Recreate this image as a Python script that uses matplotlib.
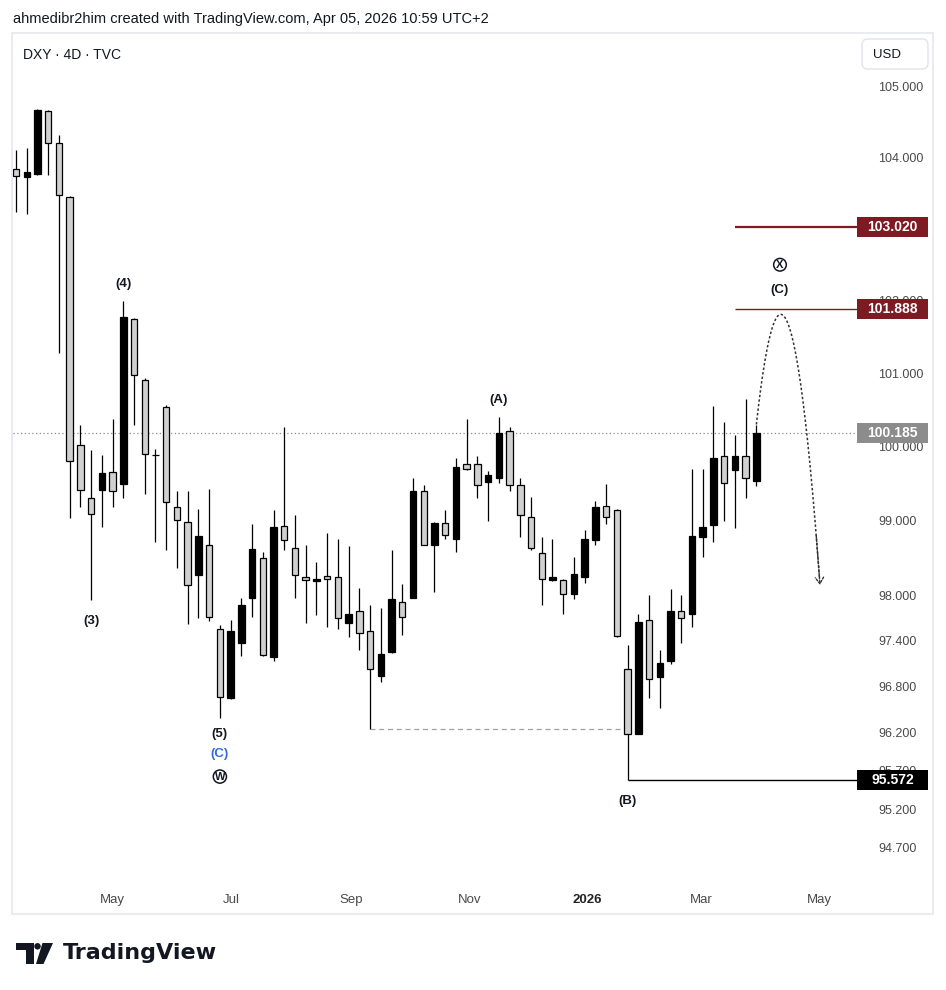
import numpy as np
import pandas as pd
import matplotlib
matplotlib.use("Agg")
import matplotlib.pyplot as plt
from matplotlib.patches import Rectangle, FancyBboxPatch, Ellipse, Polygon
from matplotlib.transforms import IdentityTransform
import matplotlib.ticker as mticker

plt.rcParams['font.family'] = ['Liberation Sans', 'DejaVu Sans']

# ---------------- data (DXY, 4D candles) ----------------
opens = [103.84, 103.73, 103.77, 104.66, 104.21, 103.44, 100.02, 99.30, 99.41, 99.66,
         99.50, 101.74, 100.91, 99.88, 100.54, 99.19, 98.98, 98.27, 98.68, 97.56,
         96.64, 97.37, 97.97, 98.50, 97.19, 98.93, 98.63, 98.25, 98.19, 98.26,
         98.25, 97.64, 97.80, 97.53, 96.93, 97.25, 97.92, 97.97, 99.40, 98.67,
         98.97, 98.75, 99.77, 99.77, 99.52, 99.58, 100.21, 99.48, 99.05, 98.57,
         98.21, 98.21, 98.02, 98.24, 98.74, 99.20, 99.15, 97.03, 96.18, 97.68,
         96.92, 97.13, 97.80, 97.75, 98.78, 98.94, 99.87, 99.68, 99.87, 99.54]
highs = [104.10, 104.14, 104.69, 104.67, 104.32, 103.46, 100.29, 99.95, 99.89, 100.38,
         101.99, 101.76, 100.94, 99.97, 100.56, 99.40, 99.40, 99.16, 99.43, 97.61,
         97.68, 97.97, 98.96, 98.58, 99.15, 100.27, 99.08, 98.68, 98.45, 98.84,
         98.75, 98.66, 98.10, 97.88, 97.84, 98.61, 98.15, 99.58, 99.48, 98.98,
         99.15, 99.85, 100.37, 99.87, 99.67, 100.40, 100.27, 99.58, 99.32, 98.78,
         98.76, 98.22, 98.51, 98.87, 99.27, 99.50, 99.16, 97.35, 97.75, 98.00,
         97.28, 98.09, 98.01, 99.69, 99.70, 100.55, 100.33, 100.16, 100.65, 100.30]
lows = [103.23, 103.20, 103.76, 103.76, 101.28, 99.04, 99.19, 97.94, 98.91, 99.19,
        99.30, 100.29, 99.36, 98.71, 98.60, 98.37, 97.62, 97.70, 97.66, 96.39,
        96.63, 97.20, 97.72, 97.20, 97.13, 98.60, 97.97, 97.64, 97.74, 97.58,
        97.56, 97.45, 97.28, 96.24, 96.85, 97.24, 97.47, 97.96, 98.67, 98.04,
        98.76, 98.58, 99.68, 99.30, 99.00, 99.51, 99.40, 98.78, 98.61, 97.88,
        98.19, 97.76, 97.95, 98.17, 98.68, 98.95, 97.45, 95.572, 96.17, 96.64,
        96.52, 97.09, 97.37, 97.58, 98.51, 98.71, 98.99, 98.90, 99.31, 99.46]
closes = [103.74, 103.80, 104.67, 104.21, 103.47, 99.80, 99.41, 99.09, 99.64, 99.40,
          101.78, 100.98, 99.90, 99.89, 99.25, 99.01, 98.14, 98.80, 97.72, 96.66,
          97.53, 97.88, 98.62, 97.21, 98.91, 98.74, 98.27, 98.21, 98.22, 98.22,
          97.70, 97.75, 97.50, 97.03, 97.23, 97.95, 97.72, 99.40, 98.68, 98.97,
          98.81, 99.73, 99.70, 99.48, 99.61, 100.19, 99.48, 99.07, 98.63, 98.22,
          98.25, 98.02, 98.29, 98.75, 99.19, 99.05, 97.46, 96.18, 97.65, 96.90,
          97.11, 97.80, 97.70, 98.79, 98.92, 99.84, 99.51, 99.87, 99.57, 100.185]

# 103.000 is fully hidden behind the 103.020 tag in the reference
price_ticks = [105.0, 104.0, 102.0, 101.0, 100.0, 99.0, 98.0, 97.4, 96.8, 96.2, 95.7, 95.2, 94.7]
time_tick_dates = ['2025-05-01', '2025-07-01', '2025-09-01', '2025-11-01', '2026-01-01', '2026-03-01', '2026-05-01']
time_tick_labels = ['May', 'Jul', 'Sep', 'Nov', '2026', 'Mar', 'May']
first_bar_date = '2025-03-12'
days_per_bar = 5.54

last_price = 100.185
target_high = 103.020
target_mid = 101.888
b_low = 95.572
prior_low = 96.24          # low of Sep candle (dashed reference)
proj_peak = 101.81         # projected (C) peak
proj_end = 98.14           # projected decline target

# ---------------- figure ----------------
W, H = 946, 990
fig = plt.figure(figsize=(W / 100, H / 100), dpi=100)
fig.patch.set_facecolor('white')

def fx(px):
    return px / W

def fy(py):
    return 1 - py / H

# outer pane frame
fig.add_artist(Rectangle((fx(12), fy(914)), (933 - 12) / W, (914 - 33) / H,
                         transform=fig.transFigure, fc='white', ec='#e6e8ee', lw=1.2, zorder=0))

ax = fig.add_axes([fx(13), fy(880), (848 - 13) / W, (880 - 33) / H])
ax.set_facecolor('none')
ax.set_yscale('log')
ax.set_ylim(94.289, 105.772)
ax.set_xlim(-0.28, 77.54)
for s in ax.spines.values():
    s.set_visible(False)

n = len(opens)
xs = np.arange(n)
o = np.array(opens); h = np.array(highs); l = np.array(lows); c = np.array(closes)
up = c >= o

ax.vlines(xs, l, h, color='black', lw=0.9, zorder=2)
bw = 0.6
for i in range(n):
    lo, hi = min(o[i], c[i]), max(o[i], c[i])
    fc = 'black' if up[i] else '#d0d0d0'
    ax.add_patch(Rectangle((xs[i] - bw / 2, lo), bw, max(hi - lo, 0.004), fc=fc, ec='black',
                           lw=0.9, zorder=3))

# axis ticks
ax.yaxis.tick_right()
ax.set_yticks(price_ticks)
ax.yaxis.set_major_formatter(mticker.FormatStrFormatter('%.3f'))
ax.yaxis.set_minor_locator(mticker.NullLocator())
ax.yaxis.set_minor_formatter(mticker.NullFormatter())
ax.tick_params(axis='y', length=0, pad=22, labelsize=9, labelcolor='#4a4a4a')
for t in ax.get_yticklabels():
    t.set_horizontalalignment('left')

fb = pd.Timestamp(first_bar_date)
tpos = [(pd.Timestamp(d) - fb).days / days_per_bar for d in time_tick_dates]
ax.set_xticks(tpos)
ax.set_xticklabels(time_tick_labels)
ax.tick_params(axis='x', length=0, pad=10, labelsize=9.5, labelcolor='#4a4a4a')
for t in ax.get_xticklabels():
    if t.get_text() == '2026':
        t.set_fontweight('bold')
        t.set_color('#222222')

x_tag = ax.transData.inverted().transform((857, 0))[0]

# last price dotted line
ax.hlines(last_price, ax.get_xlim()[0], x_tag, colors='#8a8d95', lw=0.9,
          linestyles=(0, (1, 2)), clip_on=False, zorder=1)
# dashed reference line
ax.hlines(prior_low, 33, 57, colors='#a0a0a0', lw=0.9, linestyles=(0, (4, 3)), zorder=1)
# target lines
x_lines = ax.transData.inverted().transform((735, 0))[0]
ax.hlines(target_high, x_lines, x_tag, colors='#7d1a22', lw=1.6, clip_on=False, zorder=4)
ax.hlines(target_mid, x_lines, x_tag, colors='#7d1a22', lw=1.0, clip_on=False, zorder=4)
ax.hlines(b_low, 57, x_tag, colors='black', lw=1.0, clip_on=False, zorder=4)

# projected path (dotted curve)
x0, y0 = 69, highs[-1]
xp, yp = 71.27, proj_peak
x1, y1 = 74.93, proj_end
aL = (np.log(yp) - np.log(y0)) / (xp - x0) ** 2
aR = (np.log(yp) - np.log(y1)) / (x1 - xp) ** 2
xl = np.linspace(x0, xp, 60)
xr = np.linspace(xp, x1 - 0.05, 120)
yl = np.exp(np.log(yp) - aL * (xl - xp) ** 2)
yr = np.exp(np.log(yp) - aR * (xr - xp) ** 2)
ax.plot(np.r_[xl, xr], np.r_[yl, yr], color='#333333', lw=1.1, ls=(0, (1.6, 1.4)), zorder=5)
xa = x1 - 0.35
ya = np.exp(np.log(yp) - aR * (xa - xp) ** 2)
ax.annotate('', xy=(x1, y1), xytext=(xa, ya),
            arrowprops=dict(arrowstyle='->,head_length=0.45,head_width=0.3', color='#333333',
                            lw=1.0, linestyle=(0, (1.5, 1.2)), shrinkA=0, shrinkB=0), zorder=5)

# wave labels
def lab(txt, x, y, dy_px, color='#131722'):
    ax.annotate(txt, xy=(x, y), xytext=(0, dy_px * 0.72), textcoords='offset points',
                ha='center', va='center', fontsize=9.5, fontweight='bold', color=color, zorder=6)

def circ(txt, x, y, dy_px):
    ax.annotate(txt, xy=(x, y), xytext=(0, dy_px * 0.72), textcoords='offset points',
                ha='center', va='center', fontsize=8, fontweight='bold', color='#131722', zorder=6,
                bbox=dict(boxstyle='circle,pad=0.12', fc='none', ec='#131722', lw=1.1))

lab('(4)', 10, highs[10], 17)
lab('(3)', 7, lows[7], -21)
lab('(5)', 19, lows[19], -16)
lab('(C)', 19, lows[19], -36, color='#2f6bd9')
circ('W', 19, lows[19], -59)
lab('(A)', 45, highs[45], 17)
lab('(B)', 57, lows[57], -21)
lab('(C)', 71.2, target_mid, 19)
circ('X', 71.2, target_mid, 44)

# price tags on the axis
def tag(price, text, fc):
    yd = ax.transData.transform((0, price))[1]
    fig.add_artist(Rectangle((857, yd - 10), 71, 20, transform=IdentityTransform(),
                             fc=fc, ec='none', zorder=20))
    fig.text(892.5, yd, text, transform=IdentityTransform(), ha='center', va='center',
             fontsize=10, fontweight='bold', color='white', zorder=21)

tag(target_high, '103.020', '#7d1a22')
tag(target_mid, '101.888', '#7d1a22')
tag(last_price, '100.185', '#8c8c8c')
tag(b_low, '95.572', '#000000')

# USD box
fig.add_artist(FancyBboxPatch((fx(862), fy(69)), (928 - 862) / W, (69 - 39) / H,
                              boxstyle='round,pad=0,rounding_size=0.006', transform=fig.transFigure,
                              fc='white', ec='#e0e3eb', lw=1.0, zorder=10))
fig.text(fx(873), fy(55), 'USD', ha='left', va='center', fontsize=9.5, color='#131722', zorder=11)

# header texts
fig.text(fx(13), fy(19), 'ahmedibr2him created with TradingView.com, Apr 05, 2026 10:59 UTC+2',
         ha='left', va='center', fontsize=10.5, color='#131722')
fig.text(fx(23), fy(55), 'DXY \u00b7 4D \u00b7 TVC', ha='left', va='center', fontsize=10,
         color='#131722')

# TradingView logo
logo_c = '#131722'
fig.add_artist(Rectangle((fx(15.5), fy(949.5)), 18 / W, 6.5 / H, transform=fig.transFigure,
                         fc=logo_c, ec='none'))
fig.add_artist(Rectangle((fx(26), fy(964)), 7.5 / W, 21 / H, transform=fig.transFigure,
                         fc=logo_c, ec='none'))
fig.add_artist(Ellipse((fx(37.5), fy(946.3)), 6.5 / W, 6.5 / H, transform=fig.transFigure,
                       fc=logo_c, ec='none'))
fig.add_artist(Polygon([(fx(42.5), fy(943)), (fx(53), fy(943)), (fx(43.5), fy(964)), (fx(36), fy(964))],
                       closed=True, transform=fig.transFigure, fc=logo_c, ec='none'))
fig.text(fx(63), fy(953), 'TradingView', ha='left', va='center', fontsize=16, fontweight='bold',
         color=logo_c, family=['DejaVu Sans'])

fig.savefig('out.png', dpi=100, facecolor='white')
